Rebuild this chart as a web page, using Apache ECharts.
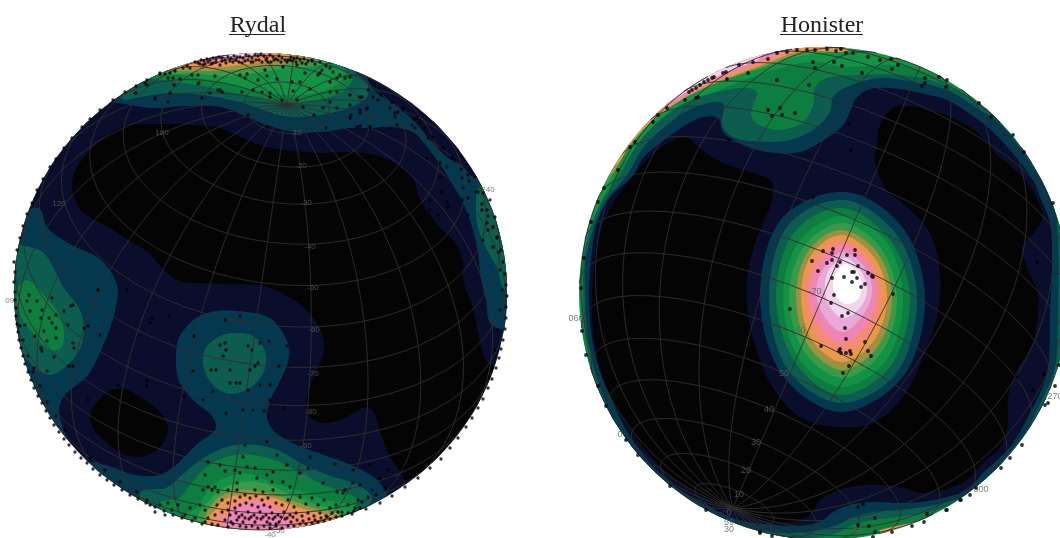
<!DOCTYPE html>
<html><head><meta charset="utf-8">
<style>html,body{margin:0;padding:0;background:#fff}#c{width:1060px;height:538px;filter:blur(0.45px)}</style>
<script src="https://cdn.jsdelivr.net/npm/echarts@6/dist/echarts.min.js"></script>
</head><body><div id="c"></div>
<script>
// ---------- Rydal contour regions (plot units) ----------
const rydalBlackMain=[[73,177],[84,157],[101,140],[125,126],[152,124],[193,125],[220,128],[243,138],[267,147],[294,151],[321,153],[351,152],[378,156],[402,167],[414,180],[419,197],[429,213],[439,227],[453,240],[463,260],[463,280],[473,308],[480,341],[488,363],[500,368],[525,365],[525,545],[420,545],[405,481],[389,455],[380,431],[372,410],[363,408],[345,418],[324,423],[311,418],[306,405],[312,381],[321,361],[324,345],[318,325],[304,308],[287,296],[264,286],[230,284],[199,283],[179,281],[162,268],[149,253],[128,240],[108,227],[91,218],[79,208],[73,193]];
const rydalBlackSmall=[[90,415],[98,401],[111,390],[125,389],[142,398],[159,411],[168,428],[162,445],[145,456],[125,455],[105,441],[93,428]];
const rydalTealTop=[[118,103],[152,108],[186,106],[220,107],[243,115],[267,125],[294,132],[321,132],[351,128],[370,128],[390,127],[413,132],[423,142],[437,160],[450,180],[463,203],[473,230],[478,253],[481,278],[486,301],[490,323],[503,330],[530,335],[530,180],[473,177],[463,167],[447,157],[430,140],[413,120],[393,103],[377,93],[368,80],[360,35],[150,35],[95,100]];
const rydalTealLeft=[[20,212],[39,208],[47,227],[68,243],[101,260],[117,285],[115,311],[105,341],[88,375],[64,396],[59,410],[62,425],[66,440],[40,445],[0,440],[0,210]];
const rydalTealBottom=[[236,311],[270,318],[287,341],[289,358],[280,381],[270,401],[267,418],[274,431],[297,445],[324,455],[351,465],[375,478],[385,491],[392,515],[300,560],[150,550],[85,490],[92,462],[101,464],[115,468],[135,475],[159,475],[176,465],[196,445],[216,428],[211,415],[193,400],[179,381],[176,361],[179,338],[196,318],[216,311]];
const rydalDarkTop=[[125,100],[135,98],[169,93],[203,95],[243,103],[284,116],[321,115],[351,107],[367,97],[368,85],[355,72],[340,30],[150,30],[115,90]];
const rydalDarkBottom=[[142,491],[166,488],[182,475],[203,458],[230,446],[257,445],[280,451],[304,465],[331,476],[358,485],[372,498],[365,510],[300,560],[200,560],[140,510]];
const rydalDarkLeft=[[30,247],[44,253],[64,288],[79,308],[84,328],[79,351],[64,368],[51,375],[34,368],[29,361],[0,340],[0,240],[20,245]];
const rydalDarkCentre=[[236,333],[253,336],[265,351],[264,371],[250,388],[230,394],[213,385],[203,365],[206,348],[220,336]];
const rydalDarkRight=[[480,186],[476,205],[478,228],[487,250],[497,268],[505,290],[530,290],[530,180]];
const rydalGreenTop=[[150,78],[163,80],[197,85],[230,92],[287,103],[330,97],[347,88],[352,78],[342,66],[330,40],[170,35],[140,65]];
const rydalGreenBottom=[[160,503],[179,498],[193,481],[209,465],[230,456],[253,455],[277,461],[297,471],[324,485],[351,495],[358,501],[348,511],[300,560],[200,560]];
const rydalGreenLeft=[[30,281],[44,295],[57,311],[64,331],[61,348],[51,350],[34,335],[20,315],[17,291],[24,281]];
const rydalBrightTop=[[140,72],[170,73],[230,85],[287,95],[317,93],[340,82],[345,72],[328,63],[320,30],[180,30]];
const rydalBrightBottom=[[183,518],[197,507],[210,487],[227,477],[247,473],[270,482],[297,490],[327,500],[357,507],[347,515],[300,560],[200,560]];
const rydalMidTop=[[140,70],[197,74],[230,76],[263,72],[287,68],[313,66],[330,60],[300,30],[170,30]];
const rydalMidBottom=[[197,520],[210,500],[220,490],[240,482],[263,483],[287,493],[317,505],[347,512],[340,518],[300,560],[210,560]];
const rydalOliveTop=[[155,68],[180,71],[213,71],[263,67],[297,62],[315,58],[300,30],[170,30]];
const rydalOliveBottom=[[205,522],[213,503],[223,495],[243,490],[267,493],[290,500],[320,510],[340,515],[330,540],[230,545]];
const rydalOrangeTop=[[160,66],[195,68],[230,66],[263,62],[290,57],[300,53],[270,30],[170,40]];
const rydalOrangeBottom=[[207,522],[215,510],[227,498],[250,495],[273,498],[297,507],[327,515],[337,518],[320,545],[230,545]];
const rydalSalmonTop=[[175,63],[197,64],[230,62],[263,57],[280,53],[260,30],[180,40]];
const rydalSalmonBottom=[[212,522],[220,512],[233,502],[257,498],[277,503],[300,513],[320,518],[310,545],[230,545]];
const rydalPinkTop=[[200,60],[230,60],[255,56],[270,52],[250,30],[200,40]];
const rydalPinkBottom=[[223,525],[228,513],[240,505],[260,502],[277,510],[290,520],[297,528],[280,545],[235,545]];
const rydalPaleTop=[[225,58],[247,56],[262,53],[250,35],[220,40]];
// ---------- Honister contour regions (plot units) ----------
const honisterRimMid=[[605,185],[620,158],[640,130],[663,110],[695,92],[730,78],[765,67],[800,56],[830,49],[830,25],[650,50],[585,170]];
const honisterRimOlive=[[610,175],[627,148],[647,125],[670,107],[700,90],[733,77],[767,65],[800,53],[835,48],[835,25],[650,45],[590,165]];
const honisterRimOrange=[[615,165],[630,145],[650,123],[673,105],[703,88],[735,75],[770,62],[800,51],[850,49],[850,25],[650,45],[595,150]];
const honisterRimSalmon=[[630,138],[650,120],[675,103],[705,86],[737,73],[770,60],[790,52],[800,47],[790,25],[650,45],[605,125]];
const honisterRimPink=[[640,125],[660,110],[680,99],[708,83],[738,70],[765,60],[782,52],[780,25],[650,45],[615,110]];
const honisterRimPale=[[670,100],[690,90],[712,79],[738,67],[760,58],[765,30],[660,60],[640,90]];
const honisterRimLower=[[880,527],[910,522],[940,510],[965,497],[985,483],[1005,520],[900,560]];
const honisterGreenField=[[581,288],[583,331],[590,375],[604,415],[620,448],[652,488],[690,511],[733,530],[770,541],[840,541],[880,530],[940,515],[975,497],[1000,478],[1030,445],[1050,405],[1063,370],[1067,313],[1067,240],[1060,195],[1045,165],[1015,128],[993,112],[980,102],[953,85],[920,70],[890,65],[847,67],[813,62],[780,68],[745,80],[712,93],[679,110],[652,130],[632,152],[613,180],[595,215],[585,250]];
const honisterDarkField=[[583,288],[585,331],[592,372],[606,412],[622,445],[655,485],[693,508],[733,527],[770,538],[810,538],[837,533],[853,525],[873,520],[900,517],[923,513],[947,507],[967,499],[990,483],[995,478],[1025,442],[1045,405],[1058,370],[1062,313],[1062,240],[1056,198],[1040,165],[1012,132],[987,110],[960,93],[930,80],[897,75],[863,75],[827,78],[815,87],[813,105],[803,122],[780,130],[756,123],[751,113],[757,92],[747,88],[717,92],[687,102],[660,120],[637,145],[620,175],[600,205],[587,240],[583,265]];
const honisterTealField=[[585,288],[587,331],[595,372],[609,410],[625,442],[658,482],[695,505],[733,523],[770,532],[807,532],[837,525],[853,517],[873,512],[900,510],[923,507],[947,502],[967,495],[987,482],[993,473],[1022,437],[1042,400],[1055,367],[1058,313],[1058,240],[1053,200],[1035,170],[1010,135],[993,118],[980,110],[947,90],[913,82],[880,78],[847,87],[833,97],[830,112],[813,130],[790,140],[767,142],[733,137],[722,125],[723,103],[693,108],[667,125],[643,148],[627,175],[603,205],[590,240],[585,265]];
const honisterNavyField=[[589,288],[591,331],[599,368],[614,405],[631,438],[665,478],[699,501],[733,518],[773,525],[807,525],[823,520],[833,512],[850,505],[873,502],[897,503],[920,502],[943,498],[967,490],[983,473],[1010,447],[1030,413],[1047,373],[1050,313],[1052,263],[1050,223],[1040,197],[1033,180],[993,132],[967,112],[947,100],[920,93],[890,88],[867,90],[855,100],[850,112],[843,125],[827,138],[800,152],[767,152],[743,145],[723,132],[718,118],[700,118],[667,138],[643,158],[633,175],[608,200],[596,227],[591,260]];
const honisterBlack=[[592,311],[594,265],[600,232],[615,200],[638,170],[660,148],[685,137],[702,150],[723,163],[753,173],[772,182],[772,200],[763,223],[753,250],[747,280],[747,305],[753,337],[770,383],[800,417],[837,427],[873,423],[903,397],[923,357],[937,317],[940,273],[930,233],[907,207],[887,190],[875,162],[877,145],[880,125],[893,108],[907,106],[930,110],[957,120],[980,135],[997,155],[1010,165],[1025,180],[1038,200],[1042,220],[1030,237],[1022,247],[1027,267],[1038,293],[1038,313],[1033,343],[1017,370],[1008,397],[1008,420],[1003,443],[983,463],[967,480],[943,490],[920,493],[903,488],[883,485],[863,485],[840,490],[820,500],[810,515],[790,522],[760,520],[733,510],[699,495],[665,471],[631,431],[608,391],[596,351]];
const peakTeal=[[847,192],[903,228],[925,300],[902,378],[840,412],[783,376],[760,295],[783,217]];
const peakDark=[[845,200],[897,235],[917,300],[895,375],[840,403],[788,370],[769,293],[790,223]];
const peakGreen=[[843,208],[890,240],[910,300],[889,368],[840,395],[795,362],[776,293],[796,230]];
const peakBright=[[842,216],[885,240],[903,300],[885,362],[842,387],[800,360],[783,295],[800,240]];
const peakMid=[[842,223],[880,247],[897,300],[880,355],[842,378],[805,353],[789,295],[805,245]];
const peakOlive=[[841,230],[877,252],[892,300],[876,349],[842,370],[809,347],[796,295],[809,250]];
const peakOrange=[[841,235],[874,257],[887,298],[873,342],[842,362],[812,340],[801,294],[812,254]];
const peakSalmon=[[841,240],[871,260],[882,297],[869,335],[842,353],[815,333],[805,293],[815,258]];
const peakPink=[[842,245],[868,264],[877,295],[865,327],[842,343],[819,325],[809,292],[819,263]];
const peakLight=[[843,252],[865,268],[872,293],[861,318],[842,332],[824,316],[816,291],[824,268]];
const peakPale=[[845,258],[861,271],[867,292],[858,310],[843,318],[830,307],[825,289],[829,270]];
const peakWhite=[[846,264],[857,272],[862,286],[858,299],[847,304],[837,298],[833,285],[837,271]];
// ---------- measured poles (plot units) ----------
const rydalPoints=[[195,62],[198,63],[201,60],[204,61],[207,59],[210,60],[213,58],[216,59],[219,57],[222,58],[225,60],[228,57],[231,58],[234,56],[237,57],[240,57],[243,58],[246,55],[249,56],[252,58],[255,55],[258,56],[261,54],[264,56],[267,58],[270,55],[273,57],[276,59],[279,56],[282,58],[285,60],[288,60],[291,57],[294,59],[297,58],[300,60],[304,59],[308,61],[312,61],[205,64],[213,63],[220,65],[233,62],[242,63],[253,62],[262,62],[271,62],[183,68],[187,66],[190,68],[175,71],[170,73],[165,74],
[200,64],[203,65],[208,62],[211,64],[216,62],[222,61],[226,63],[230,61],[236,60],[239,62],[245,61],[248,60],[251,62],[256,60],[259,60],[266,60],[268,62],[274,60],[278,60],[281,62],[287,62],[292,61],[296,62],[302,63],[306,64],[315,64],[320,62],[326,66],[330,68],
[168,78],[173,78],[180,79],[198,84],[170,93],[145,83],[136,93],[155,99],[168,102],[202,98],[210,93],[218,90],[222,92],[192,75],[198,75],[215,76],[240,75],[247,74],[245,78],[258,80],[267,76],[277,79],[262,92],[242,92],[253,90],[270,93],[292,82],[300,82],[293,91],[310,89],[330,92],[337,92],[282,100],[270,97],[297,100],[303,107],[323,108],[337,108],[330,102],[360,97],[322,70],[320,73],[333,72],[340,75],[337,78],[305,73],[297,65],[312,60],[290,60],[283,67],[265,70],[330,82],[318,75],[350,105],[360,110],
[160,73],[174,85],[199,83],[220,90],[155,98],[135,93],[147,85],[248,115],[267,127],[314,115],[326,128],[351,115],[367,108],[395,113],[378,100],[370,127],
[350,77],[345,78],[368,90],[350,95],[362,97],[373,97],[390,108],[398,112],[403,108],[395,117],[360,113],[367,109],[350,118],[357,127],[360,126],[370,127],[390,128],[397,125],[412,125],[415,128],[417,118],[420,123],[428,138],[427,158],[440,163],[447,167],[452,158],[455,160],[462,178],[468,175],[463,188],[475,177],[440,177],[442,192],[430,200],[447,202],[448,207],[430,210],[438,215],[468,198],[462,200],[468,215],[478,192],[482,210],[487,210],[487,223],[483,240],[493,247],[488,230],[493,227],[499,252],[497,237],[495,217],[483,193],[490,200],
[29,295],[27,301],[30,311],[37,301],[42,310],[41,318],[49,318],[56,315],[52,323],[56,328],[44,331],[56,338],[47,341],[35,336],[25,325],[64,311],[71,306],[68,325],[84,328],[73,343],[74,348],[41,348],[54,357],[42,351],[69,366],[100,335],[88,326],[52,298],[73,305],[47,371],[34,368],[98,290],[127,290],[150,323],[169,316],[152,318],[225,320],[240,316],
[220,345],[225,343],[226,350],[223,356],[211,370],[216,370],[230,370],[248,346],[252,350],[260,343],[269,341],[258,363],[255,366],[250,370],[236,383],[230,383],[240,383],[248,390],[260,385],[270,385],[279,366],[287,346],[193,371],[194,336],[203,400],[213,391],[226,413],[243,410],[253,410],[264,411],[270,400],[284,408],[184,396],[147,381],[147,386],[88,400],[118,385],[73,366],
[245,445],[267,442],[277,455],[208,462],[220,465],[243,457],[287,465],[310,457],[335,464],[225,471],[235,470],[247,467],[240,473],[255,468],[205,475],[273,472],[267,475],[300,473],[308,468],[370,465],[353,470],[353,483],[323,483],[337,492],[343,493],[272,482],[283,482],[257,478],[237,483],[215,487],[208,487],[218,492],[228,490],[237,490],[255,490],[263,492],[273,490],[290,487],[203,490],[212,490],
[240,497],[245,495],[250,498],[256,496],[262,500],[268,498],[222,500],[228,503],[235,501],[217,505],[205,510],[200,505],[190,508],[178,505],[172,510],[168,503],[160,505],[150,505],[147,500],[155,512],[165,515],[185,515],[195,518],[208,518],[215,515],[222,512],[228,510],[235,508],[240,505],[246,503],[252,505],[258,507],[264,505],[270,507],[276,503],[282,505],[288,500],[294,507],[300,497],[306,504],[312,498],[318,505],[324,500],[330,508],[336,505],[342,512],[348,505],[355,508],[362,502],
[230,515],[236,513],[242,515],[248,512],[254,515],[260,512],[266,515],[272,513],[278,515],[284,512],[290,515],[296,513],[302,516],[308,513],[314,516],[320,513],[326,516],[332,513],[338,512],[225,520],[231,522],[237,520],[243,522],[249,519],[255,522],[261,519],[267,522],[273,519],[279,522],[285,519],[291,522],[297,520],[303,521],[309,519],[315,520],[321,518],[327,517],[205,522],[212,524],[218,525],[240,526],[246,527],[252,526],[258,528],[264,526],[270,528],[276,526],[282,528],[288,526],[294,526],[300,524],
[239,517],[245,518],[251,517],[257,518],[263,517],[269,518],[275,517],[281,517],[287,518],[293,517],[233,524],[228,527],[270,524],[276,524],[306,524],[312,523],[318,522],[324,521],[330,519],[336,517],[342,516],[348,513],[354,511],[360,508],
[345,490],[360,485],[372,490],[380,478],[368,497],[358,500],[376,495],[388,470],[385,488],
[14,262],[15,272],[14,282],[15,292],[15,300],[16,308],[16,316],[17,324],[18,332],[19,340],[21,348],[23,356],[25,364],[28,372],[31,380],[34,388],[38,396],[42,403],[46,411],[50,418],[54,425],[59,432],[64,439],[69,445],[75,452],[81,458],[87,463],[93,469],[100,475],[107,480],[114,485],[122,490],[130,495],[138,499],[146,503],[155,507],[164,511],[173,515],[182,518],[192,521],[202,524],[20,326],[23,340],[28,356],[33,372],[40,386],[47,402],[56,416],[65,430],[76,444],[90,458],[105,470],[120,482],[137,492],
[17,250],[20,238],[23,226],[27,214],[32,203],[37,190],[43,179],[50,167],[56,159],[64,148],[72,138],[82,127],[90,119],[100,110],[113,100],[125,92],[136,86],[147,80],[160,74],
[381,95],[392,102],[403,110],[414,119],[425,128],[433,137],[443,148],[452,158],[461,169],[469,181],[476,192],[482,204],[488,216],[493,227],[497,238],[501,250],[503,262],[505,274],[506,285],[507,296],[506,307],[506,318],[505,329],[503,340],[501,349],[499,358],[496,368],[492,379],[488,388],[483,399],[478,408],[472,418],[466,427],[458,438],[450,448],[441,459],[430,468],[418,478],[405,487],[392,496],[380,503],[366,509],[352,514],[500,270],[502,290],[500,310],[498,330],[495,350]];
const honisterPoints=[[777,53],[787,52],[797,50],[807,50],[815,50],[827,49],[836,51],[841,49],[853,53],[868,57],[880,60],[891,59],[898,65],[846,53],[768,59],[753,62],[739,65],[726,72],[723,73],[714,77],[704,82],[696,88],[689,92],[685,100],[667,108],[658,115],[653,122],[635,142],[630,147],[618,170],[604,188],[598,202],[591,222],[584,258],[708,80],[700,85],[692,90],[712,78],
[813,62],[834,62],[842,66],[815,68],[862,73],[892,69],[777,80],[809,85],[748,73],[727,79],[698,97],[696,98],[768,110],[780,108],[772,116],[782,115],[795,113],[849,124],[851,150],[729,140],[813,197],[925,78],[925,83],[922,86],[946,87],[939,77],[947,80],[979,103],[991,117],[1013,135],[1024,152],[1037,262],
[823,251],[833,249],[832,253],[855,250],[855,255],[847,255],[812,261],[827,263],[832,260],[840,262],[837,266],[858,266],[818,271],[852,272],[854,272],[868,273],[872,276],[873,277],[832,278],[844,277],[857,278],[852,282],[861,287],[865,284],[834,295],[831,303],[893,294],[790,309],[848,313],[842,316],[845,328],[846,339],[821,346],[865,342],[840,349],[839,351],[841,353],[846,353],[850,351],[851,354],[868,351],[871,356],[849,366],[843,373],
[581,288],[582,331],[586,355],[598,386],[606,406],[626,440],[638,455],[670,486],[706,510],[760,533],[912,526],[946,510],[961,500],[1001,468],[1010,458],[1045,405],[1055,386],[1044,374],[1033,390],[1059,365],
[858,507],[863,504],[875,518],[858,525],[869,526],[875,532],[892,532],[927,514],[947,510],[924,522],[960,500],[970,495],[976,488],[873,537],[760,532],[772,536],[1017,377],[1022,445],[1048,403],[1053,203]];
// ---------- tick labels ----------
const rydalLabels=[["180",162,133],["-10",296,133],["-20",301,166],["-30",306,203],["-40",310,247],["-50",313,288],["-60",314,330],["-70",313,374],["-80",311,412],["-60",306,446],["-50",302,476],["120",59,204],["240",488,190],["090",12,301],["-40",270,535],["-50",279,531],["20",279,82]];
const honisterLabels=[["10",739,495],["20",746,471],["30",756,443],["40",769,410],["50",784,374],["-60",799,331],["-70",815,292],["060",576,319],["270",1055,397],["0",620,435],["300",981,490],["20",858,531],["0",729,513],["59",729,523],["30",729,530]];
const titleNames=["Rydal","Honister"];

// styles
const C={navy:'#0a0e2c',black:'#040404',teal:'#04384f',dark:'#0c5c50',green:'#0e7d40',bright:'#129244',mid:'#3a9a48',olive:'#9d9140',orange:'#ea974c',salmon:'#f48b74',pink:'#ee86b4',light:'#e8a8d8',pale:'#f2d6ee',white:'#ffffff'};
const rydalDisk={cx:260.5,cy:291.5,rx:246.5,ry:238.5,pole:[287,105]};
const honisterDisk={cx:824,cy:293.5,rx:245,ry:246.5,pole:[733,508]};
const rydalLayers=[
 [C.black,[rydalBlackMain,rydalBlackSmall]],
 [C.teal,[rydalTealTop,rydalTealLeft,rydalTealBottom]],
 [C.dark,[rydalDarkTop,rydalDarkBottom,rydalDarkLeft,rydalDarkCentre,rydalDarkRight]],
 [C.green,[rydalGreenTop,rydalGreenBottom,rydalGreenLeft]],
 [C.bright,[rydalBrightTop,rydalBrightBottom]],
 [C.mid,[rydalMidTop,rydalMidBottom]],
 [C.olive,[rydalOliveTop,rydalOliveBottom]],
 [C.orange,[rydalOrangeTop,rydalOrangeBottom]],
 [C.salmon,[rydalSalmonTop,rydalSalmonBottom]],
 [C.pink,[rydalPinkTop,rydalPinkBottom]],
 [C.pale,[rydalPaleTop]]
];
const honisterLayers=[
 [C.mid,[honisterRimMid]],[C.olive,[honisterRimOlive]],[C.orange,[honisterRimOrange,honisterRimLower]],[C.salmon,[honisterRimSalmon]],[C.pink,[honisterRimPink]],[C.pale,[honisterRimPale]],
 [C.green,[honisterGreenField]],[C.dark,[honisterDarkField]],[C.teal,[honisterTealField]],[C.navy,[honisterNavyField]],[C.black,[honisterBlack]],
 [C.teal,[peakTeal]],[C.dark,[peakDark]],[C.green,[peakGreen]],[C.bright,[peakBright]],[C.mid,[peakMid]],[C.olive,[peakOlive]],[C.orange,[peakOrange]],[C.salmon,[peakSalmon]],[C.pink,[peakPink]],[C.light,[peakLight]],[C.pale,[peakPale]],[C.white,[peakWhite]]
];
// closed centripetal Catmull-Rom through the pixel vertices of a contour
function roundRing(pts){
  const out=[],n=pts.length;
  const tj=(t,a,b)=>t+Math.sqrt(Math.hypot(b[0]-a[0],b[1]-a[1]))+1e-6;
  const lerp=(a,b,t0,t1,t)=>[0,1].map(i=>a[i]*(t1-t)/(t1-t0)+b[i]*(t-t0)/(t1-t0));
  for(let i=0;i<n;i++){
    const p0=pts[(i+n-1)%n],p1=pts[i],p2=pts[(i+1)%n],p3=pts[(i+2)%n];
    const t0=0,t1=tj(t0,p0,p1),t2=tj(t1,p1,p2),t3=tj(t2,p2,p3);
    for(let k=0;k<8;k++){
      const t=t1+(t2-t1)*k/8;
      const a1=lerp(p0,p1,t0,t1,t),a2=lerp(p1,p2,t1,t2,t),a3=lerp(p2,p3,t2,t3,t);
      const b1=lerp(a1,a2,t0,t2,t),b2=lerp(a2,a3,t1,t3,t);
      out.push(lerp(b1,b2,t1,t2,t));
    }
  }
  return out;
}
function contourSeries(disk,base,layers){
  const all=[[base,null]].concat(layers);
  return {type:'custom',coordinateSystem:'cartesian2d',silent:true,animation:false,clip:false,z:1,
    data:all.map((_,i)=>[i]),
    renderItem(params,api){
      const layer=all[params.dataIndex];
      const c=api.coord([disk.cx,disk.cy]);
      const e=api.coord([disk.cx+disk.rx,disk.cy+disk.ry]);
      const rx=e[0]-c[0],ry=e[1]-c[1];
      if(!layer[1]) return {type:'ellipse',shape:{cx:c[0],cy:c[1],rx,ry},style:{fill:layer[0]}};
      return {type:'group',children:layer[1].map(poly=>({type:'polygon',
        shape:{points:roundRing(poly.map(p=>api.coord(p)))},
        style:{fill:layer[0]},
        clipPath:{type:'ellipse',shape:{cx:c[0],cy:c[1],rx,ry}}}))};
    }};
}
// orthographic net: small circles every 10 degrees round the pole, meridians every 15
function netLines(disk){
  const px=(disk.pole[0]-disk.cx)/disk.rx, py=(disk.cy-disk.pole[1])/disk.ry;
  const pz=Math.sqrt(Math.max(0,1-px*px-py*py));
  const p=[px,py,pz];
  let e1=[-pz*px,-pz*py,1-pz*pz];
  const n=Math.hypot(e1[0],e1[1],e1[2]); e1=e1.map(v=>v/n);
  const e2=[p[1]*e1[2]-p[2]*e1[1],p[2]*e1[0]-p[0]*e1[2],p[0]*e1[1]-p[1]*e1[0]];
  const R=Math.PI/180, lines=[];
  const trace=(f,from,to,step)=>{let cur=[];
    for(let t=from;t<=to;t+=step){const [a,b]=f(t);
      const v=[0,1,2].map(i=>Math.cos(a*R)*p[i]+Math.sin(a*R)*(Math.cos(b*R)*e1[i]+Math.sin(b*R)*e2[i]));
      if(v[2]>=0) cur.push([disk.cx+v[0]*disk.rx,disk.cy-v[1]*disk.ry]);
      else {if(cur.length>1)lines.push(cur);cur=[];}
    } if(cur.length>1)lines.push(cur);};
  for(let a=10;a<180;a+=10) trace(t=>[a,t],-180,180,3);
  for(let b=0;b<360;b+=15) trace(t=>[t,b],0,180,2);
  return lines;
}
function netSeries(disk){
  const lines=netLines(disk);
  return {type:'custom',coordinateSystem:'cartesian2d',silent:true,animation:false,clip:false,z:2,
    data:lines.map((_,i)=>[i]),
    renderItem(params,api){return {type:'polyline',shape:{points:lines[params.dataIndex].map(p=>api.coord(p))},style:{fill:'none',stroke:'#2f2f2f',lineWidth:0.9}};}};
}
function dots(points,size){return {type:'scatter',data:points,symbol:'circle',symbolSize:size,itemStyle:{color:'#000'},silent:true,animation:false,z:4,clip:false};}
function labels(list,size){return {type:'scatter',data:list.map(l=>({name:l[0],value:[l[1],l[2]]})),symbolSize:0,silent:true,animation:false,z:3,clip:false,
  label:{show:true,position:'inside',formatter:'{b}',color:'#5e5e5e',fontSize:size,fontFamily:'Liberation Sans'}};}

const chart=echarts.init(document.getElementById('c'),null,{renderer:'canvas'});
chart.setOption({
  animation:false,backgroundColor:'#fff',tooltip:{show:false},
  title:[
    {text:titleNames[0],left:253,top:9,textAlign:'center',textStyle:{fontFamily:'Liberation Serif',fontSize:24,fontWeight:'normal',color:'#222'}},
    {text:titleNames[1],left:817,top:9,textAlign:'center',textStyle:{fontFamily:'Liberation Serif',fontSize:24,fontWeight:'normal',color:'#222'}}
  ],
  graphic:[
    {type:'rect',shape:{x:229,y:34,width:56,height:1},style:{fill:'#222'}},
    {type:'rect',shape:{x:780,y:34,width:83,height:1},style:{fill:'#222'}}
  ],
  grid:{left:0,right:0,top:0,bottom:0},
  xAxis:{type:'value',min:0,max:1060,show:false},
  yAxis:{type:'value',min:0,max:538,inverse:true,show:false},
  series:[
    contourSeries(rydalDisk,C.navy,rydalLayers),
    contourSeries(honisterDisk,C.bright,honisterLayers),
    netSeries(rydalDisk),netSeries(honisterDisk),
    labels(rydalLabels,8),labels(honisterLabels,9),
    dots(rydalPoints,3.3),dots(honisterPoints,3.8)
  ]
});
</script></body></html>
